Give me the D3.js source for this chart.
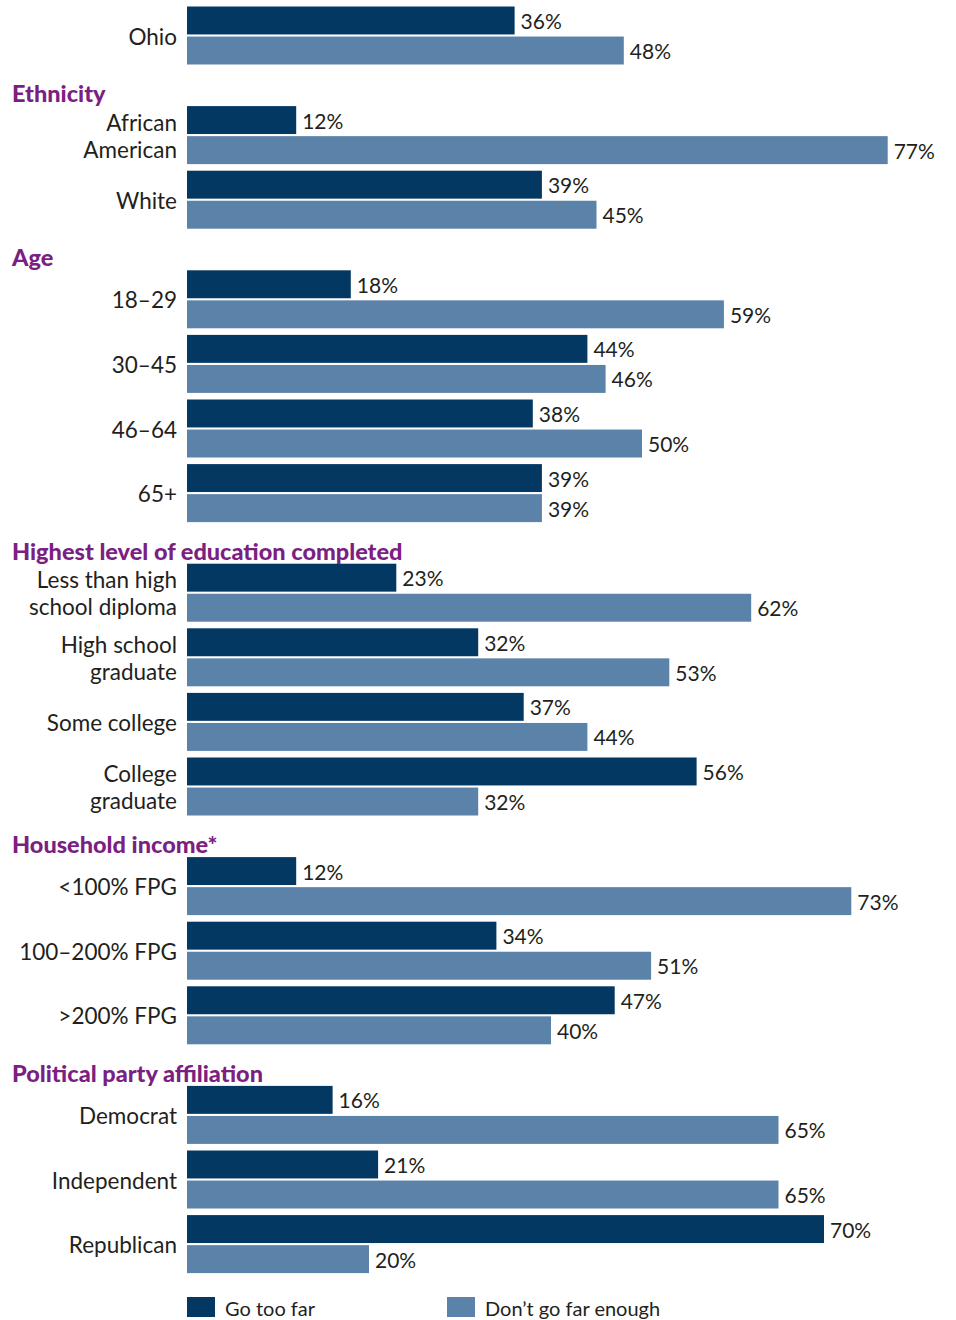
<!DOCTYPE html>
<html>
<head>
<meta charset="utf-8">
<script src="https://cdn.jsdelivr.net/npm/d3@7"></script>
<style>
  body { margin: 0; background: #fff; }
  text { font-family: Lato, "Open Sans", sans-serif; fill: #231f20; }
</style>
</head>
<body>
<div id="chart"></div>
<script>
// section titles (index 0 = overall, no title)
const sectionTitles = ["", "Ethnicity", "Age", "Highest level of education completed", "Household income*", "Political party affiliation"];
const categories = ["Ohio", "African\nAmerican", "White", "18–29", "30–45", "46–64", "65+",
  "Less than high\nschool diploma", "High school\ngraduate", "Some college", "College\ngraduate",
  "<100% FPG", "100–200% FPG", ">200% FPG", "Democrat", "Independent", "Republican"];
const sectionOf = [0, 1, 1, 2, 2, 2, 2, 3, 3, 3, 3, 4, 4, 4, 5, 5, 5];
const goTooFar = [36, 12, 39, 18, 44, 38, 39, 23, 32, 37, 56, 12, 34, 47, 16, 21, 70];
const notFarEnough = [48, 77, 45, 59, 46, 50, 39, 62, 53, 44, 32, 73, 51, 40, 65, 65, 20];
const seriesNames = ["Go too far", "Don’t go far enough"];
const colors = ["#033862", "#5b82a8"];

const width = 956, height = 1320;
const svg = d3.select("#chart").append("svg")
  .attr("width", width).attr("height", height);

const x = d3.scaleLinear().domain([0, 100]).range([187, 1097]);

// slot position: group index plus extra room for each section header
const headerGap = 35 / 64.6;
const slot = (i) => i + sectionOf[i] * headerGap;
const y = d3.scaleLinear().domain([0, 1]).range([6.5, 71.1]);
const inner = d3.scaleBand().domain([0, 1]).range([0, 58]).paddingInner(0.07);

const rows = categories.map((c, i) => ({ label: c, i, vals: [goTooFar[i], notFarEnough[i]] }));

const g = svg.selectAll("g.grp").data(rows).enter().append("g")
  .attr("class", "grp")
  .attr("transform", d => `translate(0,${y(slot(d.i))})`);

g.selectAll("rect").data(d => d.vals.map((v, k) => ({ v, k }))).enter().append("rect")
  .attr("x", x(0))
  .attr("y", d => inner(d.k))
  .attr("width", d => x(d.v) - x(0))
  .attr("height", inner.bandwidth())
  .attr("fill", d => colors[d.k]);

g.selectAll("text.val").data(d => d.vals.map((v, k) => ({ v, k }))).enter().append("text")
  .attr("class", "val")
  .attr("x", d => x(d.v) + 6)
  .attr("y", d => inner(d.k) + inner.bandwidth() / 2 + 8.5)
  .style("font-size", "21px")
  .text(d => d.v + "%");

// category labels, right aligned, centred on the group
g.each(function(d) {
  const lines = d.label.split("\n");
  const t = d3.select(this).append("text")
    .attr("text-anchor", "end")
    .style("font-size", "22.5px");
  const mid = 29 + 9 - (lines.length - 1) * 13.5;
  lines.forEach((l, j) => {
    t.append("tspan").attr("x", 177).attr("y", mid + j * 27).text(l);
  });
});

// section headers
const firstOfSection = sectionTitles.map((s, k) => sectionOf.indexOf(k));
svg.selectAll("text.hdr").data(sectionTitles.map((s, k) => ({ s, k })).filter(d => d.s)).enter()
  .append("text")
  .attr("class", "hdr")
  .attr("x", 12)
  .attr("y", d => y(slot(firstOfSection[d.k])) - 4)
  .style("font-size", "23.5px")
  .style("font-weight", "900")
  .style("fill", "#7b1f82")
  .text(d => d.s);

// legend
const legX = [187, 447];
const leg = svg.selectAll("g.leg").data(seriesNames).enter().append("g")
  .attr("class", "leg")
  .attr("transform", (d, i) => `translate(${legX[i]},1297)`);
leg.append("rect").attr("width", 28).attr("height", 20).attr("fill", (d, i) => colors[i]);
leg.append("text").attr("x", 38).attr("y", 19).style("font-size", "20px").text(d => d);
</script>
</body>
</html>
